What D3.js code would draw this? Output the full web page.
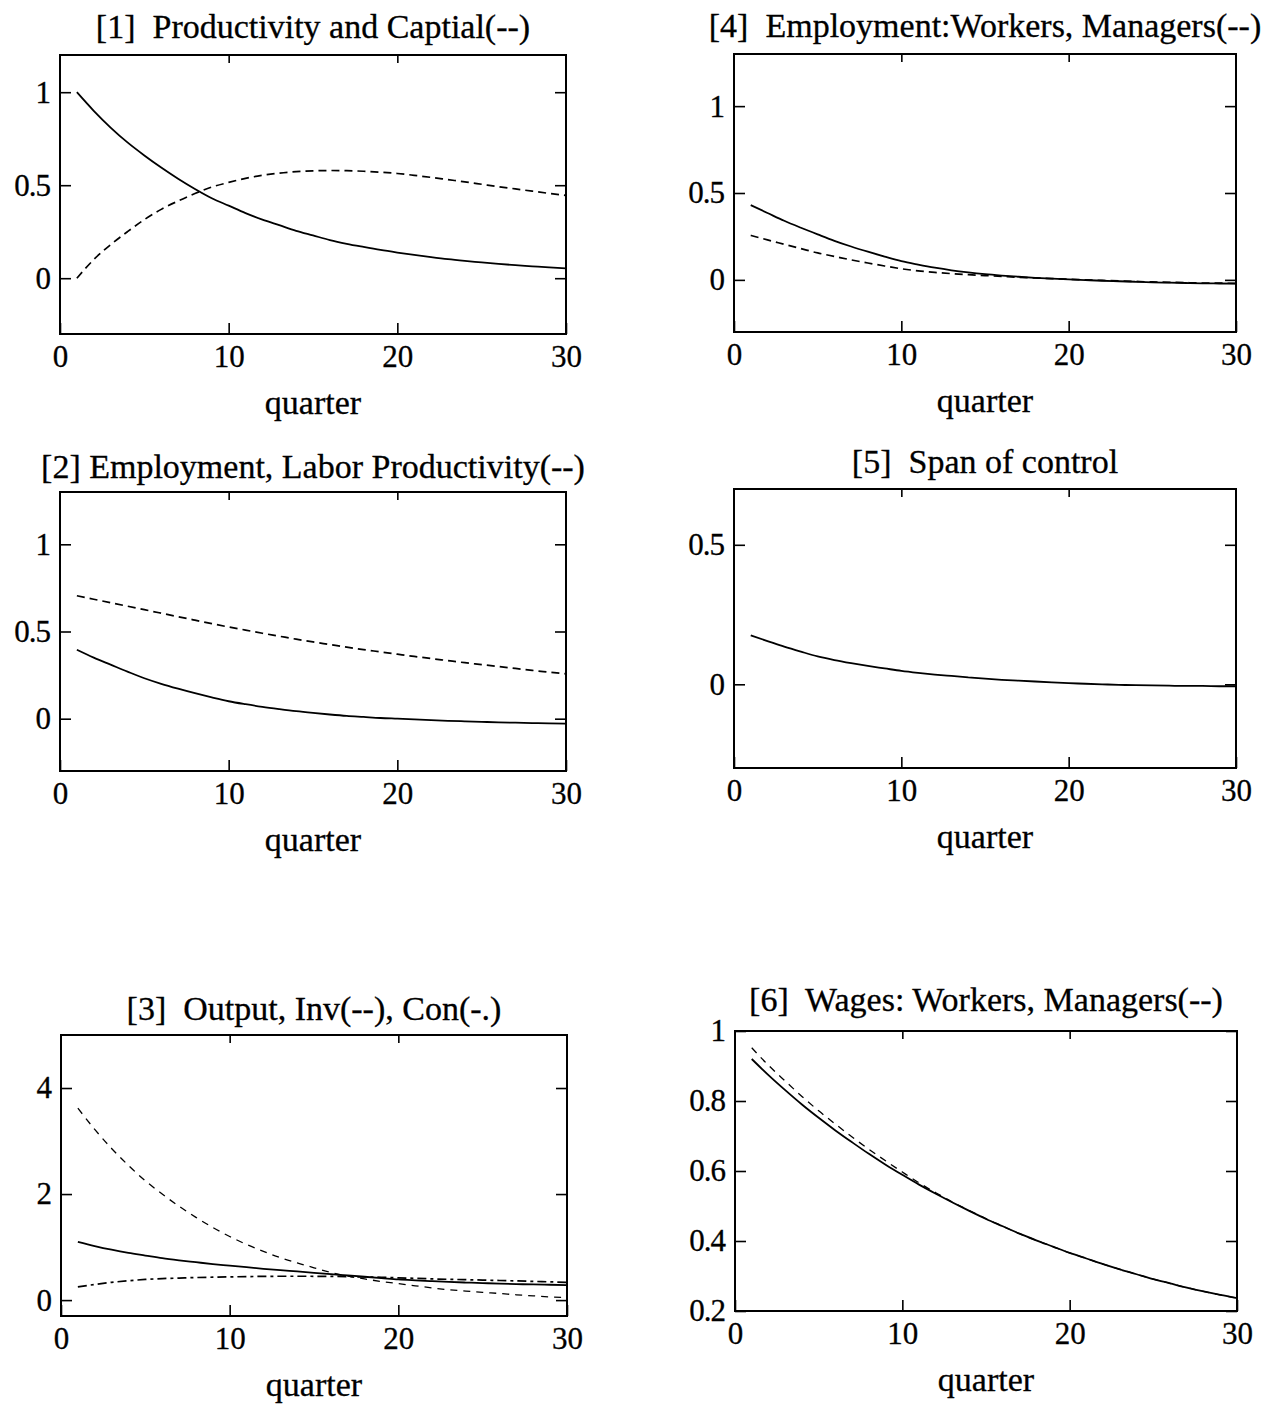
<!DOCTYPE html>
<meta charset="utf-8">
<style>
body { margin: 0; background: #fff; }
svg { display: block; }
text { font-family: "Liberation Serif", "DejaVu Serif", serif; fill: #000; stroke: #000; stroke-width: 0.3; white-space: pre; }
.frame { fill: none; stroke: #000; stroke-width: 2; }
.tick line { stroke: #000; stroke-width: 1.6; }
.domain { display: none; }
.curve { fill: none; stroke: #000; }
</style>
<svg width="1266" height="1408"></svg>
<script src="https://cdn.jsdelivr.net/npm/d3@7"></script>
<script>

var quarters = [1, 2, 3, 4, 5, 6, 7, 8, 9, 10, 11, 12, 13, 14, 15, 16, 17, 18, 19, 20, 21, 22, 23, 24, 25, 26, 27, 28, 29, 30];
var xTicks = [0, 10, 20, 30];

// [1] productivity, capital(--)
var productivity = [1.00, 0.90, 0.81, 0.73, 0.66, 0.595, 0.535, 0.48, 0.43, 0.39, 0.35, 0.315, 0.285, 0.255, 0.23, 0.205, 0.185, 0.168, 0.152, 0.138, 0.125, 0.113, 0.102, 0.093, 0.085, 0.077, 0.07, 0.064, 0.058, 0.053];
var capital = [0, 0.10, 0.18, 0.25, 0.315, 0.37, 0.415, 0.455, 0.49, 0.515, 0.537, 0.553, 0.565, 0.573, 0.577, 0.579, 0.578, 0.575, 0.57, 0.563, 0.553, 0.542, 0.53, 0.518, 0.505, 0.492, 0.48, 0.468, 0.456, 0.445];
var yTicks1 = [0, 0.5, 1];

// [2] employment, labor productivity(--)
var employment = [0.395, 0.35, 0.31, 0.27, 0.232, 0.2, 0.172, 0.146, 0.122, 0.1, 0.083, 0.068, 0.055, 0.043, 0.033, 0.024, 0.016, 0.01, 0.004, 0.0, -0.004, -0.008, -0.012, -0.015, -0.018, -0.021, -0.023, -0.025, -0.027, -0.028];
var laborProd = [0.705, 0.685, 0.665, 0.645, 0.625, 0.605, 0.585, 0.565, 0.545, 0.526, 0.508, 0.49, 0.473, 0.456, 0.44, 0.425, 0.41, 0.396, 0.383, 0.37, 0.357, 0.345, 0.333, 0.321, 0.31, 0.299, 0.288, 0.277, 0.267, 0.257];
var yTicks2 = [0, 0.5, 1];

// [3] output, investment(--), consumption(-.)
var output = [1.1, 1.02, 0.95, 0.89, 0.84, 0.79, 0.75, 0.715, 0.68, 0.65, 0.62, 0.59, 0.565, 0.54, 0.515, 0.49, 0.465, 0.44, 0.415, 0.39, 0.372, 0.356, 0.342, 0.331, 0.321, 0.311, 0.302, 0.295, 0.289, 0.283];
var investment = [3.62, 3.22, 2.86, 2.54, 2.25, 2.0, 1.77, 1.56, 1.37, 1.2, 1.05, 0.92, 0.8, 0.7, 0.61, 0.52, 0.45, 0.4, 0.35, 0.31, 0.27, 0.23, 0.195, 0.17, 0.145, 0.125, 0.1, 0.08, 0.06, 0.045];
var consumption = [0.25, 0.295, 0.335, 0.365, 0.39, 0.405, 0.415, 0.425, 0.432, 0.438, 0.443, 0.447, 0.45, 0.45, 0.449, 0.447, 0.443, 0.437, 0.43, 0.42, 0.41, 0.4, 0.392, 0.385, 0.378, 0.37, 0.362, 0.353, 0.344, 0.335];
var yTicks3 = [0, 2, 4];

// [4] employment: workers, managers(--)
var empWorkers = [0.43, 0.385, 0.34, 0.30, 0.262, 0.225, 0.192, 0.162, 0.134, 0.108, 0.088, 0.07, 0.055, 0.043, 0.033, 0.025, 0.018, 0.012, 0.007, 0.003, -0.001, -0.005, -0.008, -0.011, -0.014, -0.016, -0.018, -0.02, -0.021, -0.022];
var empManagers = [0.256, 0.23, 0.205, 0.18, 0.155, 0.135, 0.115, 0.097, 0.08, 0.064, 0.052, 0.043, 0.036, 0.03, 0.025, 0.02, 0.015, 0.011, 0.007, 0.004, 0.0, -0.003, -0.006, -0.009, -0.012, -0.014, -0.016, -0.018, -0.019, -0.02];
var yTicks4 = [0, 0.5, 1];

// [5] span of control
var spanControl = [0.175, 0.155, 0.135, 0.117, 0.1, 0.087, 0.076, 0.066, 0.057, 0.048, 0.041, 0.035, 0.03, 0.025, 0.02, 0.016, 0.013, 0.01, 0.007, 0.004, 0.002, 0.0, -0.002, -0.003, -0.004, -0.005, -0.006, -0.006, -0.007, -0.007];
var yTicks5 = [0, 0.5];

// [6] wages: workers, managers(--)
var wageWorkers = [0.92, 0.874, 0.831, 0.79, 0.752, 0.716, 0.682, 0.649, 0.618, 0.589, 0.561, 0.535, 0.51, 0.486, 0.463, 0.442, 0.421, 0.402, 0.384, 0.366, 0.35, 0.334, 0.319, 0.305, 0.291, 0.279, 0.267, 0.256, 0.246, 0.237];
var wageManagers = [0.952, 0.902, 0.857, 0.813, 0.772, 0.734, 0.697, 0.662, 0.629, 0.597, 0.566, 0.538, 0.511, 0.487, 0.464, 0.442, 0.421, 0.402, 0.384, 0.366, 0.35, 0.334, 0.319, 0.305, 0.291, 0.279, 0.267, 0.256, 0.246, 0.237];
var yTicks6 = [0.2, 0.4, 0.6, 0.8, 1];

var solid = { dash: null, width: 1.8 },
    dashed = { dash: "8,5", width: 1.7 },
    thinDashed = { dash: "7,6", width: 1.3 },
    dashDot = { dash: "9,4,3,4", width: 1.7 };

var panels = [
  { title: "[1]  Productivity and Captial(--)", box: [60, 566, 55, 334], titleDy: 17, y: [-0.3, 1.2], ticks: yTicks1,
    series: [[productivity, solid], [capital, dashed]] },
  { title: "[2] Employment, Labor Productivity(--)", box: [60, 566, 492, 771], titleDy: 14, y: [-0.3, 1.3], ticks: yTicks2,
    series: [[employment, solid], [laborProd, dashed]] },
  { title: "[3]  Output, Inv(--), Con(-.)", box: [61, 567, 1035, 1316], titleDy: 15, y: [-0.3, 5], ticks: yTicks3,
    series: [[investment, thinDashed], [consumption, dashDot], [output, solid]] },
  { title: "[4]  Employment:Workers, Managers(--)", box: [734, 1236, 54, 332], titleDy: 17, y: [-0.3, 1.3], ticks: yTicks4,
    series: [[empManagers, dashed], [empWorkers, solid]] },
  { title: "[5]  Span of control", box: [734, 1236, 489, 768], titleDy: 16, y: [-0.3, 0.7], ticks: yTicks5,
    series: [[spanControl, solid]] },
  { title: "[6]  Wages: Workers, Managers(--)", box: [735, 1237, 1031, 1311], titleDy: 20, y: [0.2, 1], ticks: yTicks6,
    series: [[wageManagers, thinDashed], [wageWorkers, solid]] }
];

var svg = d3.select("svg");

panels.forEach(function(p) {
  var left = p.box[0], right = p.box[1], top = p.box[2], bottom = p.box[3],
      w = right - left, h = bottom - top;

  var x = d3.scaleLinear().domain([0, 30]).range([0, w]),
      y = d3.scaleLinear().domain(p.y).range([h, 0]);

  var g = svg.append("g")
      .attr("transform", "translate(" + left + "," + top + ")");

  g.append("g")
      .attr("transform", "translate(0," + h + ")")
      .call(d3.axisBottom(x).tickValues(xTicks).tickSize(-11).tickSizeOuter(0).tickPadding(11))
      .selectAll("text").style("font-size", "31px");

  g.append("g")
      .call(d3.axisTop(x).tickValues([10, 20]).tickSize(-8).tickSizeOuter(0).tickFormat(""));

  g.append("g")
      .call(d3.axisLeft(y).tickValues(p.ticks).tickSize(-11).tickSizeOuter(0).tickPadding(10).tickFormat(d3.format("")))
      .selectAll("text").style("font-size", "31px").style("letter-spacing", "-1px");

  g.append("g")
      .attr("transform", "translate(" + w + ",0)")
      .call(d3.axisRight(y).tickValues(p.ticks).tickSize(-11).tickSizeOuter(0).tickFormat(""));

  var line = d3.line()
      .curve(d3.curveMonotoneX)
      .x(function(d, i) { return x(quarters[i]); })
      .y(function(d) { return y(d); });

  p.series.forEach(function(s) {
    g.append("path")
        .datum(s[0])
        .attr("class", "curve")
        .attr("stroke-width", s[1].width)
        .attr("stroke-dasharray", s[1].dash)
        .attr("d", line);
  });

  g.append("rect")
      .attr("class", "frame")
      .attr("width", w)
      .attr("height", h);

  g.append("text")
      .attr("x", w / 2)
      .attr("y", -p.titleDy)
      .attr("text-anchor", "middle")
      .style("font-size", "34px")
      .text(p.title);

  g.append("text")
      .attr("x", w / 2)
      .attr("y", h + 80)
      .attr("text-anchor", "middle")
      .style("font-size", "34px")
      .text("quarter");
});

</script>
